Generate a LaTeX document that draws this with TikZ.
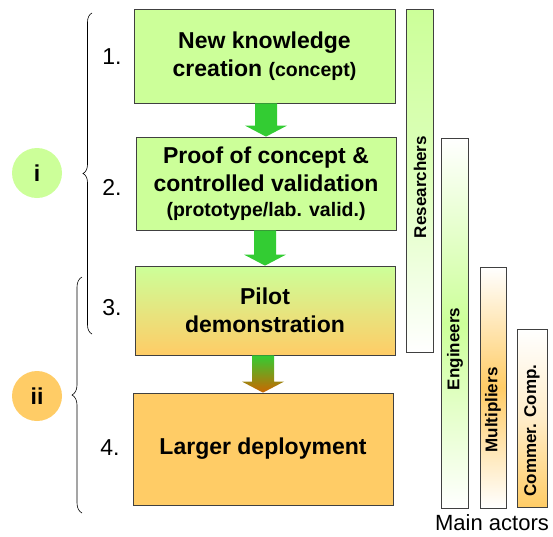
\documentclass[tikz,border=0pt]{standalone}
\usepackage{fontspec}
\setmainfont{Liberation Sans}
\usetikzlibrary{calc,decorations.pathreplacing}
\definecolor{lgreen}{HTML}{CCFF99}
\definecolor{lorange}{HTML}{FFCC66}
\definecolor{agreen}{HTML}{33CC33}
\definecolor{abrown}{HTML}{CC6600}
\tikzset{
  stage/.style={draw=black!75,line width=0.8pt,align=center,inner sep=0pt,
    font=\bfseries\fontsize{23}{28}\selectfont},
  bar/.style={draw=black!75,line width=0.8pt,inner sep=0pt,minimum width=27pt},
  actor/.style={rotate=90,inner sep=0pt,font=\bfseries\fontsize{17}{20}\selectfont},
  badge/.style={circle,inner sep=0pt,minimum size=50pt,font=\bfseries\fontsize{23}{26}\selectfont},
  stepno/.style={inner sep=0pt,font=\fontsize{23}{25}\selectfont},
  curly/.style={decorate,decoration={brace,amplitude=#1},line width=0.6pt}
}
\newcommand*{\subtxt}[1]{{\fontsize{19.5}{24}\selectfont #1}}
% block arrow from the bottom of #1 to the top of #2
\newcommand*{\blockarrow}[3]{%
  \path[#3] ($(#2.north |- #1.south)+(-11,0)$) -- ($(#2.north)+(-11,-11)$) -- ($(#2.north)+(-21,-11)$)
    -- (#2.north) -- ($(#2.north)+(21,-11)$) -- ($(#2.north)+(11,-11)$)
    -- ($(#2.north |- #1.south)+(11,0)$) -- cycle;}

\begin{document}
\begin{tikzpicture}[x=1pt,y=-1pt]
\useasboundingbox (0,0) rectangle (553,536);

% stages
\node[stage,fill=lgreen,minimum width=261pt,minimum height=94pt] (b1) at (264.5,56)
  {New knowledge\\creation \subtxt{(concept)}};
\node[stage,fill=lgreen,minimum width=260pt,minimum height=93pt] (b2) at (266,183.5)
  {Proof of concept \&\\controlled validation\\[-3pt]\subtxt{(prototype/lab. valid.)}};
\node[stage,top color=lgreen,bottom color=lorange,minimum width=260pt,minimum height=89pt] (b3) at (265,310.5)
  {Pilot\\demonstration};
\node[stage,fill=lorange,minimum width=260pt,minimum height=112pt] (b4) at (263,449)
  {Larger deployment};

\blockarrow{b1}{b2}{fill=agreen}
\blockarrow{b2}{b3}{fill=agreen}
\blockarrow{b3}{b4}{top color=agreen,bottom color=abrown,middle color=agreen!50!abrown}

% step numbers
\node[stepno] (n1) at (112,57) {1.};
\node[stepno] (n2) at (112,187) {2.};
\node[stepno] (n3) at (112,308) {3.};
\node[stepno] (n4) at (110,448) {4.};

% phases
\draw[curly=9pt] (92,334) -- (92,13);
\draw[curly=10pt] (82,513) -- (82,277);
\node[badge,fill=lgreen] (ph1) at (37,173) {i};
\node[badge,fill=lorange] (ph2) at (37,396) {ii};

% actors
\node[bar,top color=lgreen,bottom color=white,middle color=lgreen!65,minimum height=343pt] (r) at (419.5,180.5) {};
\node[bar,top color=white,bottom color=white,middle color=lgreen,minimum height=370pt] (e) at (454.5,323) {};
\node[bar,top color=white,bottom color=white,middle color=lorange,minimum height=241pt,minimum width=26pt] (m) at (493,387.5) {};
\node[bar,top color=white,bottom color=lorange,middle color=lorange!35,minimum height=178pt,minimum width=30pt] (c) at (532,418) {};
\node[actor] (rl) at (420,187) {Researchers};
\node[actor] (el) at (455,349) {Engineers};
\node[actor] (ml) at (493,410) {Multipliers};
\node[actor] (cl) at (532,430.5) {Commer. Comp.};
\node[font=\fontsize{22}{24}\selectfont] (act) at (492,523) {Main actors};
\end{tikzpicture}
\end{document}
